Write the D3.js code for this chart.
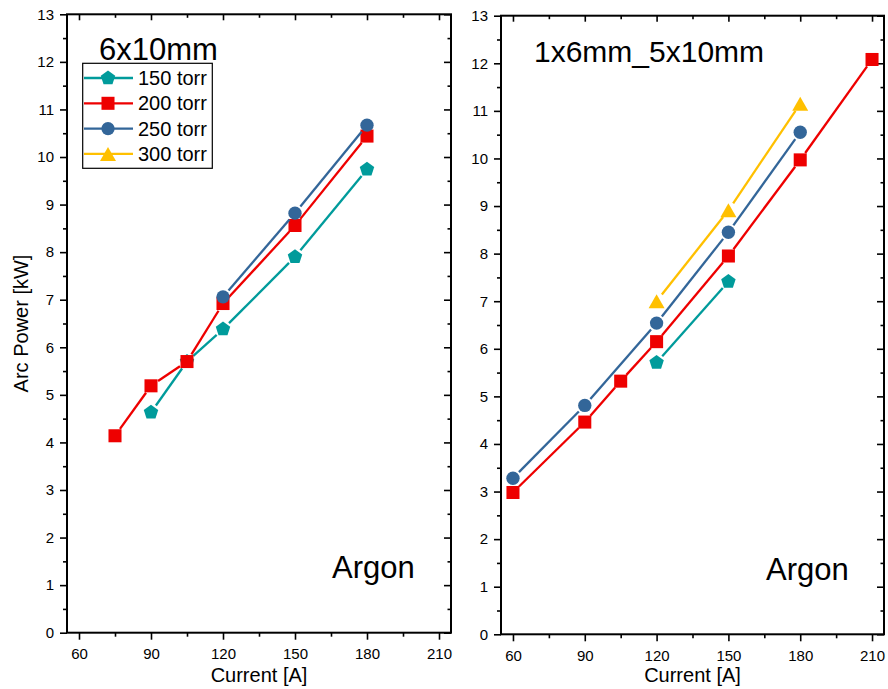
<!DOCTYPE html>
<html>
<head>
<meta charset="utf-8">
<script src="https://cdn.jsdelivr.net/npm/d3@7"></script>
<style>
  body { margin: 0; background: #fff; }
  svg { display: block; font-family: "Liberation Sans", Arial, sans-serif; }
</style>
</head>
<body>
<svg id="chart" width="888" height="689"></svg>
<script>
// ---------- data ----------
const xTicks = [60, 90, 120, 150, 180, 210];
const yTicks = [0, 1, 2, 3, 4, 5, 6, 7, 8, 9, 10, 11, 12, 13];
const seriesNames = ["150 torr", "200 torr", "250 torr", "300 torr"];
const seriesColors = ["#009B9B", "#EE0000", "#336699", "#FFC000"];
const seriesShapes = ["pentagon", "square", "circle", "triangle"];

// left panel: 6x10mm
const left_x150 = [90, 105, 120, 150, 180];
const left_y150 = [4.63, 5.70, 6.38, 7.90, 9.74];
const left_x200 = [75, 90, 105, 120, 150, 180];
const left_y200 = [4.14, 5.19, 5.70, 6.92, 8.56, 10.44];
const left_x250 = [120, 150, 180];
const left_y250 = [7.06, 8.82, 10.67];
const left_x300 = [];
const left_y300 = [];

// right panel: 1x6mm_5x10mm
const right_x150 = [120, 150];
const right_y150 = [5.71, 7.41];
const right_x200 = [60, 90, 105, 120, 150, 180, 210];
const right_y200 = [2.98, 4.46, 5.32, 6.15, 7.95, 9.97, 12.08];
const right_x250 = [60, 90, 120, 150, 180];
const right_y250 = [3.28, 4.81, 6.54, 8.45, 10.55];
const right_x300 = [120, 150, 180];
const right_y300 = [7.00, 8.91, 11.15];

const panelTitles = ["6x10mm", "1x6mm_5x10mm"];
const gasLabel = "Argon";
const xLabel = "Current [A]";
const yLabel = "Arc Power [kW]";

// ---------- build ----------
const zip = (xs, ys) => xs.map((x, i) => ({ x, y: ys[i] }));
const leftSeries = [zip(left_x150, left_y150), zip(left_x200, left_y200), zip(left_x250, left_y250), zip(left_x300, left_y300)];
const rightSeries = [zip(right_x150, right_y150), zip(right_x200, right_y200), zip(right_x250, right_y250), zip(right_x300, right_y300)];

const svg = d3.select("#chart");

const panels = [
  { x0: 67, x1: 451, y0: 14.3, y1: 632.7, series: leftSeries, title: panelTitles[0],
    titlePos: [99, 60], titleSize: 31, argonPos: [332, 578], legend: true, ylab: true },
  { x0: 501, x1: 884, y0: 15.7, y1: 634.3, series: rightSeries, title: panelTitles[1],
    titlePos: [534, 62], titleSize: 30, argonPos: [766, 580], legend: false, ylab: false }
];

function pentagonPath(r) {
  const pts = [];
  for (let i = 0; i < 5; i++) {
    const a = -Math.PI / 2 + i * 2 * Math.PI / 5;
    pts.push([r * Math.cos(a), r * Math.sin(a)]);
  }
  return "M" + pts.map(p => p.join(",")).join("L") + "Z";
}
function markerPath(shape) {
  if (shape === "pentagon") return pentagonPath(7.6);
  if (shape === "square") return d3.symbol(d3.symbolSquare, 170)();
  if (shape === "circle") return d3.symbol(d3.symbolCircle, 140)();
  if (shape === "triangle") {
    // centred on bbox, width ~16
    const w = 16, h = 14;
    return `M0,${-h / 2}L${w / 2},${h / 2}L${-w / 2},${h / 2}Z`;
  }
}

const minorX = d3.range(60, 215, 15).filter(v => v % 30 !== 0);
const minorY = d3.range(0.5, 13, 1);

panels.forEach(p => {
  const x = d3.scaleLinear().domain([55, 215]).range([p.x0, p.x1]);
  const y = d3.scaleLinear().domain([0, 13]).range([p.y1, p.y0]);
  const g = svg.append("g");

  // axes
  const styleAxis = sel => {
    sel.select(".domain").remove();
    sel.selectAll("line").attr("stroke", "#000").attr("stroke-width", 1.6);
    sel.selectAll("text").attr("font-size", 15).attr("fill", "#000")
      .attr("font-family", "'Liberation Sans', Arial, sans-serif");
  };
  g.append("g").attr("transform", `translate(0,${p.y1})`)
    .call(d3.axisBottom(x).tickValues(xTicks).tickSize(7).tickPadding(9)).call(styleAxis);
  g.append("g").attr("transform", `translate(0,${p.y1})`)
    .call(d3.axisBottom(x).tickValues(minorX).tickSize(4).tickFormat("")).call(styleAxis);
  g.append("g").attr("transform", `translate(${p.x0},0)`)
    .call(d3.axisLeft(y).tickValues(yTicks).tickSize(7).tickPadding(6)).call(styleAxis);
  g.append("g").attr("transform", `translate(${p.x0},0)`)
    .call(d3.axisLeft(y).tickValues(minorY).tickSize(4).tickFormat("")).call(styleAxis);
  g.append("g").attr("transform", `translate(0,${p.y0})`)
    .call(d3.axisTop(x).tickValues(xTicks).tickSize(-6).tickFormat("")).call(styleAxis);
  g.append("g").attr("transform", `translate(0,${p.y0})`)
    .call(d3.axisTop(x).tickValues(minorX).tickSize(-3.5).tickFormat("")).call(styleAxis);
  g.append("g").attr("transform", `translate(${p.x1},0)`)
    .call(d3.axisRight(y).tickValues(yTicks).tickSize(-7).tickFormat("")).call(styleAxis);
  g.append("g").attr("transform", `translate(${p.x1},0)`)
    .call(d3.axisRight(y).tickValues(minorY).tickSize(-3.5).tickFormat("")).call(styleAxis);

  // frame
  g.append("rect").attr("x", p.x0).attr("y", p.y0)
    .attr("width", p.x1 - p.x0).attr("height", p.y1 - p.y0)
    .attr("fill", "none").attr("stroke", "#000").attr("stroke-width", 2);

  // series
  const gap = 8.5;
  p.series.forEach((data, si) => {
    const color = seriesColors[si];
    const sg = g.append("g");
    for (let i = 0; i < data.length - 1; i++) {
      const ax = x(data[i].x), ay = y(data[i].y);
      const bx = x(data[i + 1].x), by = y(data[i + 1].y);
      const len = Math.hypot(bx - ax, by - ay);
      const ux = (bx - ax) / len, uy = (by - ay) / len;
      sg.append("line")
        .attr("x1", ax + ux * gap).attr("y1", ay + uy * gap)
        .attr("x2", bx - ux * gap).attr("y2", by - uy * gap)
        .attr("stroke", color).attr("stroke-width", 2.3);
    }
    sg.selectAll("path.mk").data(data).join("path").attr("class", "mk")
      .attr("d", markerPath(seriesShapes[si]))
      .attr("transform", d => `translate(${x(d.x)},${y(d.y)})`)
      .attr("fill", color);
  });

  // texts
  g.append("text").attr("x", p.titlePos[0]).attr("y", p.titlePos[1])
    .attr("font-size", p.titleSize).attr("fill", "#000").text(p.title);
  g.append("text").attr("x", p.argonPos[0]).attr("y", p.argonPos[1])
    .attr("font-size", 31).attr("fill", "#000").text(gasLabel);
  g.append("text").attr("x", (p.x0 + p.x1) / 2).attr("y", 682)
    .attr("text-anchor", "middle").attr("font-size", 20).attr("fill", "#000").text(xLabel);
  if (p.ylab) {
    g.append("text")
      .attr("transform", `translate(28,${(p.y0 + p.y1) / 2}) rotate(-90)`)
      .attr("text-anchor", "middle").attr("font-size", 20).attr("fill", "#000").text(yLabel);
  }

  // legend
  if (p.legend) {
    const lg = g.append("g");
    lg.append("rect").attr("x", 82.7).attr("y", 63.3).attr("width", 129.6).attr("height", 105)
      .attr("fill", "#fff").attr("stroke", "#000").attr("stroke-width", 1.2);
    seriesNames.forEach((name, i) => {
      const cy = 78 + i * 25.3;
      lg.append("line").attr("x1", 84).attr("x2", 133).attr("y1", cy).attr("y2", cy)
        .attr("stroke", seriesColors[i]).attr("stroke-width", 2.3);
      lg.append("path").attr("d", markerPath(seriesShapes[i]))
        .attr("transform", `translate(108,${cy})`).attr("fill", seriesColors[i]);
      lg.append("text").attr("x", 138).attr("y", cy).attr("dy", "0.35em")
        .attr("font-size", 20).attr("fill", "#000").text(name);
    });
  }
});
</script>
</body>
</html>
